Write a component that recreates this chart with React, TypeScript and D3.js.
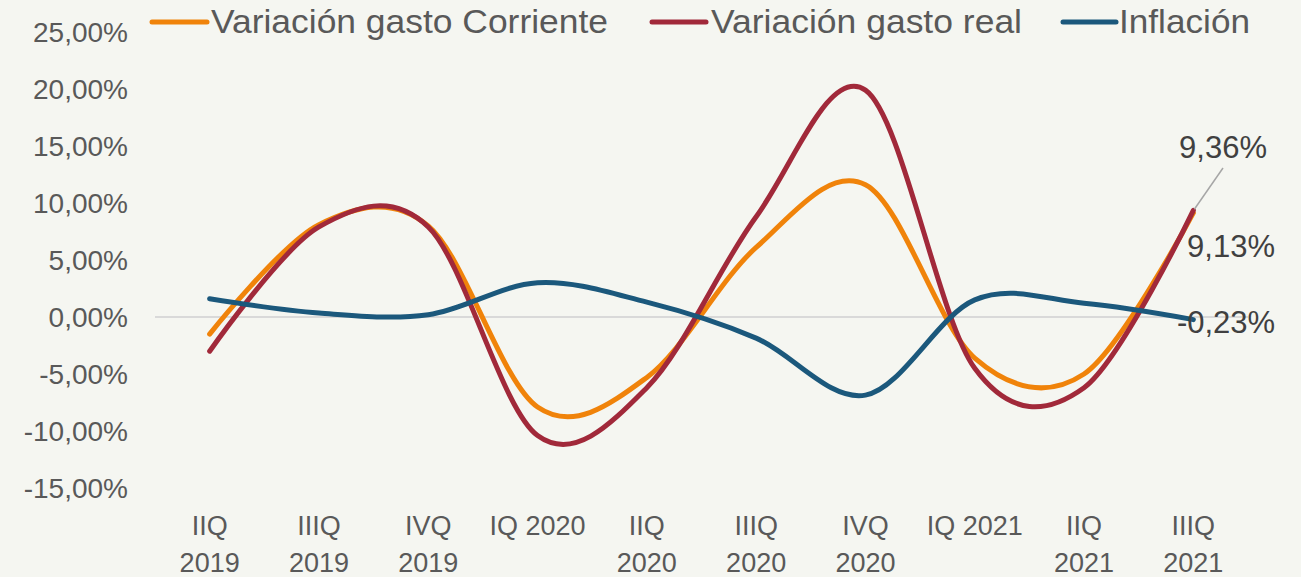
import * as d3 from "d3";
import { useMemo } from "react";

// trimestres
const quarters = ["IIQ 2019", "IIIQ 2019", "IVQ 2019", "IQ 2020", "IIQ 2020", "IIIQ 2020", "IVQ 2020", "IQ 2021", "IIQ 2021", "IIIQ 2021"];
const quarterLines = [["IIQ", "2019"], ["IIIQ", "2019"], ["IVQ", "2019"], ["IQ 2020"], ["IIQ", "2020"], ["IIIQ", "2020"], ["IVQ", "2020"], ["IQ 2021"], ["IIQ", "2021"], ["IIIQ", "2021"]];

// valores en %
const gastoCorriente = [-1.5, 8.1, 8.0, -7.9, -5.3, 6.1, 11.6, -3.6, -5.0, 9.13];
const gastoReal = [-3.0, 7.9, 7.9, -10.4, -6.2, 8.8, 19.9, -4.5, -6.2, 9.36];
const inflacion = [1.6, 0.35, 0.2, 3.0, 1.3, -1.85, -6.85, 1.5, 1.2, -0.23];

const yTicks = [25, 20, 15, 10, 5, 0, -5, -10, -15];
const seriesNames = ["Variación gasto Corriente", "Variación gasto real", "Inflación"];
const colors = ["#f0830a", "#a1293a", "#1b587c"];

const W = 1301;
const H = 577;
const FONT = "'Liberation Sans', Arial, sans-serif";
const TEXT = "#595959";

const fmt = (v: number) => v.toFixed(2).replace(".", ",") + "%";

export default function App() {
  const margin = { top: 32, bottom: 89, left: 155, right: 53 };

  const x = useMemo(
    () => d3.scaleBand<string>().domain(quarters).range([margin.left, W - margin.right]),
    []
  );
  const y = useMemo(
    () => d3.scaleLinear().domain([-15, 25]).range([H - margin.bottom, margin.top]),
    []
  );

  const cx = (q: string) => (x(q) as number) + x.bandwidth() / 2;

  const line = d3
    .line<number>()
    .x((_, i) => cx(quarters[i]))
    .y((d) => y(d))
    .curve(d3.curveCardinal.tension(0));

  const all = [gastoCorriente, gastoReal, inflacion];
  const last = quarters[quarters.length - 1];
  const lx = cx(last);

  // leyenda
  const legend = [
    { x1: 152, x2: 207, tx: 211, w: 397 },
    { x1: 652, x2: 706, tx: 711, w: 311 },
    { x1: 1063, x2: 1116, tx: 1119, w: 131 },
  ];

  return (
    <svg
      width={W}
      height={H}
      style={{ position: "absolute", left: 0, top: 0, background: "#f5f6f1" }}
      fontFamily={FONT}
    >
      <rect width={W} height={H} fill="#f5f6f1" />

      {/* eje y */}
      {yTicks.map((t) => (
        <text key={t} x={128} y={y(t)} dy="0.36em" textAnchor="end" fontSize={28} fill={TEXT}>
          {fmt(t)}
        </text>
      ))}

      <line x1={margin.left} x2={W - margin.right} y1={y(0)} y2={y(0)} stroke="#d9d9d9" strokeWidth={2} />

      {/* eje x */}
      {quarters.map((q, i) => (
        <text key={q} x={cx(q)} y={535} textAnchor="middle" fontSize={27} fill={TEXT}>
          {quarterLines[i].map((s, j) => (
            <tspan key={j} x={cx(q)} dy={j === 0 ? 0 : 37}>
              {s}
            </tspan>
          ))}
        </text>
      ))}

      {all.map((s, i) => (
        <path
          key={i}
          d={line(s) as string}
          fill="none"
          stroke={colors[i]}
          strokeWidth={5}
          strokeLinecap="round"
          strokeLinejoin="round"
        />
      ))}

      {/* etiquetas de datos */}
      <line x1={lx + 1} y1={y(gastoReal[9]) - 1} x2={1223} y2={168} stroke="#a6a6a6" strokeWidth={1.5} />
      <text x={1223} y={158} textAnchor="middle" fontSize={31} fill="#404040">
        {fmt(gastoReal[9])}
      </text>
      <text x={1231} y={257} textAnchor="middle" fontSize={31} fill="#404040">
        {fmt(gastoCorriente[9])}
      </text>
      <text x={1226} y={333} textAnchor="middle" fontSize={31} fill="#404040">
        {fmt(inflacion[9])}
      </text>

      {legend.map((l, i) => (
        <g key={i}>
          <line x1={l.x1} x2={l.x2} y1={22} y2={22} stroke={colors[i]} strokeWidth={5} strokeLinecap="round" />
          <text x={l.tx} y={33} fontSize={34} fill={TEXT} textLength={l.w} lengthAdjust="spacingAndGlyphs">
            {seriesNames[i]}
          </text>
        </g>
      ))}
    </svg>
  );
}
